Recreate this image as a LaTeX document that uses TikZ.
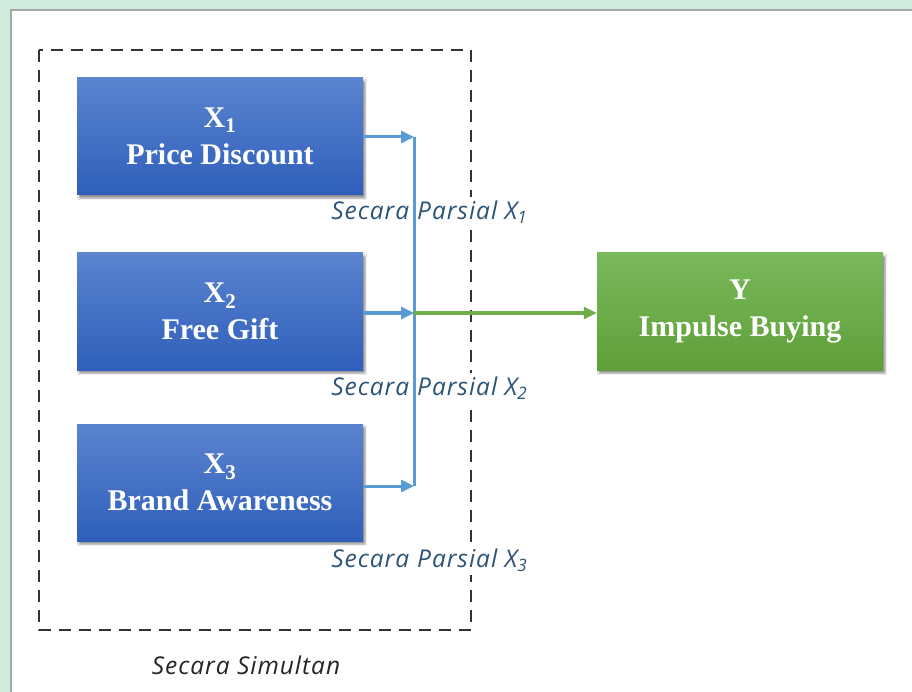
\documentclass[tikz,border=0pt]{standalone}
\usepackage{fontspec}
\setmainfont{Liberation Serif}
\newfontfamily\lblfont[LetterSpace=4]{Open Sans}
\usetikzlibrary{arrows.meta,shadows.blur,positioning}
\definecolor{bgreen}{HTML}{CFEBDB}
\definecolor{frgray}{HTML}{A8A8A8}
\definecolor{btop}{HTML}{5B84CF}
\definecolor{bbot}{HTML}{2F5FBB}
\definecolor{gtop}{HTML}{7AB95B}
\definecolor{gbot}{HTML}{5E9F39}
\definecolor{arrblue}{HTML}{5B9BD5}
\definecolor{arrgreen}{HTML}{70AD47}
\definecolor{lblblue}{HTML}{2E5478}
\definecolor{dashcol}{HTML}{333333}
\tikzset{
  varbox/.style={minimum width=286pt, minimum height=117pt, inner sep=0pt,
    align=center, text=white, font=\fontsize{30}{37}\selectfont\bfseries,
    blur shadow={shadow xshift=2pt, shadow yshift=-3pt, shadow opacity=45, shadow blur steps=6, shadow blur extra rounding=1pt}},
  bluebox/.style={varbox, top color=btop, bottom color=bbot},
  greenbox/.style={varbox, top color=gtop, bottom color=gbot},
  bluearrow/.style={draw=arrblue, line width=3pt, -{Triangle[length=13pt,width=12pt]}},
  greenarrow/.style={draw=arrgreen, line width=3pt, -{Triangle[length=13pt,width=12pt]}},
  parsial/.style={font=\lblfont\itshape\fontsize{24.5}{28}\selectfont, text=lblblue, fill=white, inner xsep=2pt, inner ysep=4pt, anchor=west},
  dashbox/.style={draw=dashcol, line width=1.8pt, dash pattern=on 12pt off 8pt}
}
\begin{document}
\begin{tikzpicture}[x=1pt,y=-1pt]
\useasboundingbox (0,0) rectangle (912,692);
\fill[bgreen] (0,0) rectangle (912,692);
\fill[white] (11,10) rectangle (912,692);
\draw[frgray, line width=2pt] (11,692) -- (11,10) -- (912,10);
\draw[dashbox] (39,50) rectangle (471,630);
\node[bluebox] (x1) at (220,136.5) {X\textsubscript{1}\\Price Discount};
\node[bluebox] (x2) at (220,311.5) {X\textsubscript{2}\\Free Gift};
\node[bluebox] (x3) at (220,482.5) {X\textsubscript{3}\\Brand Awareness};
\node[greenbox] (y) at (740,311.5) {Y\\Impulse Buying};
\node[parsial] (p1) at (412,212) {\llap{Secara\hspace{5pt}}\hspace{3pt}Parsial X\textsubscript{1}};
\node[parsial] (p2) at (412,388) {\llap{Secara\hspace{5pt}}\hspace{3pt}Parsial X\textsubscript{2}};
\node[parsial] (p3) at (412,560) {\llap{Secara\hspace{5pt}}\hspace{3pt}Parsial X\textsubscript{3}};
\node[font=\lblfont\itshape\fontsize{24.5}{28}\selectfont, text=black!85, inner sep=0pt] (sim) at (246,665) {Secara Simultan};
\coordinate (j1) at (414,137);
\coordinate (j2) at (414,313);
\coordinate (j3) at (414,486);
\draw[arrblue, line width=3pt] (j1) -- (j3);
\draw[bluearrow] (x1.east |- j1) -- (j1);
\draw[bluearrow] (x2.east |- j2) -- (j2);
\draw[bluearrow] (x3.east |- j3) -- (j3);
\draw[greenarrow] (j2) -- (y.west |- j2);
\end{tikzpicture}
\end{document}
